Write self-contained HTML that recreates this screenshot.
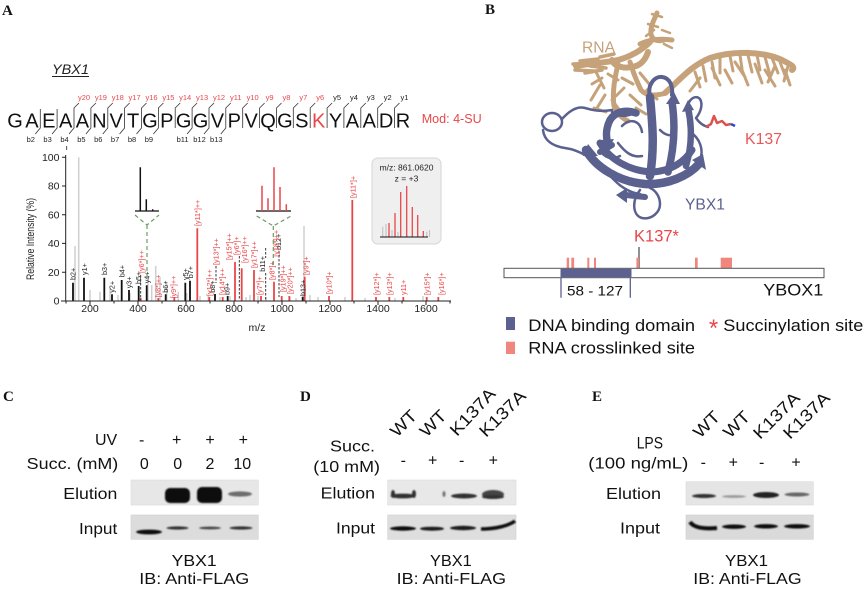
<!DOCTYPE html>
<html><head><meta charset="utf-8">
<style>
html,body{margin:0;padding:0;background:#fff;}
svg{display:block;}
text{font-family:"Liberation Sans",Arial,sans-serif;}
.L{font-family:"Liberation Serif",serif;font-weight:bold;font-size:15px;fill:#111;}
</style></head><body>
<svg width="865" height="595" viewBox="0 0 865 595" xmlns="http://www.w3.org/2000/svg">
<defs>
<filter id="bl" x="-30%" y="-200%" width="160%" height="500%"><feGaussianBlur stdDeviation="0.9"/></filter>
</defs>
<rect width="865" height="595" fill="#fff"/>

<!-- ================= PANEL A ================= -->
<text class="L" x="2" y="15">A</text>
<text x="52" y="74" font-size="13.5" font-style="italic" fill="#222" textLength="37" lengthAdjust="spacingAndGlyphs">YBX1</text>
<line x1="52" y1="76.5" x2="89" y2="76.5" stroke="#222" stroke-width="0.9"/>

<g font-size="7.5" text-anchor="middle" fill="#e8474a">
<text x="84" y="100">y20</text><text x="100.9" y="100">y19</text><text x="117.8" y="100">y18</text>
<text x="134.6" y="100">y17</text><text x="151.5" y="100">y16</text><text x="168.4" y="100">y15</text>
<text x="185.2" y="100">y14</text><text x="202.1" y="100">y13</text><text x="219" y="100">y12</text>
<text x="235.8" y="100">y11</text><text x="252.7" y="100">y10</text><text x="269.6" y="100">y9</text>
<text x="286.5" y="100">y8</text><text x="303.3" y="100">y7</text><text x="320.2" y="100">y6</text>
</g>
<g font-size="7.5" text-anchor="middle" fill="#222">
<text x="337.1" y="100">y5</text><text x="353.9" y="100">y4</text><text x="370.8" y="100">y3</text>
<text x="387.7" y="100">y2</text><text x="404.5" y="100">y1</text>
<text x="30.8" y="142">b2</text><text x="47.6" y="142">b3</text><text x="64.5" y="142">b4</text>
<text x="81.4" y="142">b5</text><text x="98.3" y="142">b6</text><text x="115.1" y="142">b7</text>
<text x="132" y="142">b8</text><text x="148.9" y="142">b9</text>
<text x="182.6" y="142">b11</text><text x="199.5" y="142">b12</text><text x="216.3" y="142">b13</text>
</g>
<line x1="66.7" y1="146" x2="66.7" y2="150" stroke="#222" stroke-width="0.8"/>
<path d="M40.3,109V128L35.3,134 M57.1,109V128L52.1,134 M79,103L74,108V128L69,134 M95.9,103L90.9,108V128L85.9,134 M112.8,103L107.8,108V128L102.8,134 M129.6,103L124.6,108V128L119.6,134 M146.5,103L141.5,108V128L136.5,134 M163.4,103L158.4,108V128L153.4,134 M180.2,103L175.2,108V128 M197.1,103L192.1,108V128L187.1,134 M214,103L209,108V128L204,134 M230.8,103L225.8,108V128L220.8,134 M247.7,103L242.7,108V128 M264.6,103L259.6,108V128 M281.5,103L276.5,108V128 M298.3,103L293.3,108V128 M315.2,103L310.2,108V128 M332.1,103L327.1,108V128 M348.9,103L343.9,108V128 M365.8,103L360.8,108V128 M382.7,103L377.7,108V128 M399.5,103L394.5,108V128" stroke="#333" stroke-width="0.8" fill="none"/>

<g font-size="20" text-anchor="middle" fill="#111">
<text x="15" y="127.5">G</text><text x="31.87" y="127.5">A</text><text x="48.74" y="127.5">E</text>
<text x="65.61" y="127.5">A</text><text x="82.48" y="127.5">A</text><text x="99.35" y="127.5">N</text>
<text x="116.22" y="127.5">V</text><text x="133.09" y="127.5">T</text><text x="149.96" y="127.5">G</text>
<text x="166.83" y="127.5">P</text><text x="183.7" y="127.5">G</text><text x="200.57" y="127.5">G</text>
<text x="217.44" y="127.5">V</text><text x="234.31" y="127.5">P</text><text x="251.18" y="127.5">V</text>
<text x="268.05" y="127.5">Q</text><text x="284.92" y="127.5">G</text><text x="301.79" y="127.5">S</text>
<text x="318.66" y="127.5" fill="#e8474a">K</text><text x="335.53" y="127.5">Y</text><text x="352.4" y="127.5">A</text>
<text x="369.27" y="127.5">A</text><text x="386.14" y="127.5">D</text><text x="403.01" y="127.5">R</text>
</g>
<text x="421.7" y="123" font-size="13" fill="#e8474a" textLength="60" lengthAdjust="spacingAndGlyphs">Mod: 4-SU</text>

<!-- spectrum axes labels -->
<text transform="translate(34,280) rotate(-90)" font-size="11" fill="#222" textLength="82" lengthAdjust="spacingAndGlyphs">Relative Intensity (%)</text>
<g font-size="10.5" text-anchor="end" fill="#222">
<text x="59.5" y="161">100</text><text x="59.5" y="189.7">80</text><text x="59.5" y="218.4">60</text>
<text x="59.5" y="247.1">40</text><text x="59.5" y="275.9">20</text><text x="59.5" y="304.7">0</text>
</g>
<g font-size="10.5" text-anchor="middle" fill="#222">
<text x="90" y="312">200</text><text x="138" y="312">400</text><text x="186" y="312">600</text>
<text x="234" y="312">800</text><text x="282" y="312">1000</text><text x="330" y="312">1200</text>
<text x="378" y="312">1400</text><text x="426" y="312">1600</text>
<text x="257" y="331">m/z</text>
</g>

<!-- gray noise peaks -->
<path d="M75,301V246 M78.7,301V157.3 M304,301V226 M155.7,301V266 M90,301V290 M100,301V291.7 M110,301V288 M118,301V295 M130,301V293 M148,301V280 M151.7,301V285 M160,301V276.7 M166.7,301V283 M178.3,301V291.7 M186.7,301V293 M200,301V296 M208.3,301V295 M220,301V297 M230,301V296 M246,301V297 M250,301V295 M258,301V296 M266,301V297 M290,301V297 M296,301V298 M310,301V295 M318,301V297 M345,301V297 M365,301V298 M395,301V298 M423,301V296" stroke="#cfcfcf" stroke-width="1.5" fill="none"/>

<path d="M73,301V282.7 M84,301V277.7 M104.3,301V277.7 M112,301V294.3 M121.7,301V280 M129,301V290 M138.7,301V286 M146.7,301V285.3 M165.7,301V294.3 M185.3,301V282.7 M190,301V280.7 M215,301V294 M227.7,301V296 M302.7,301V296.7" stroke="#111" stroke-width="1.8" fill="none"/>
<path d="M140.7,301V298 M158.3,301V298 M174.3,301V297 M197.3,301V228.3 M209.3,301V297 M222.7,301V297 M235,301V262 M241.7,301V268.3 M254,301V270 M261,301V296 M274,301V281.7 M281.7,301V296 M289.3,301V296 M304.7,301V276.7 M329,301V296 M352.3,301V200 M376,301V297 M389.3,301V297 M403.3,301V297 M426.7,301V297 M438.3,301V297" stroke="#e8474a" stroke-width="1.8" fill="none"/>
<path d="M140.7,275V300 M216,266V283 M239.3,256V300 M265.7,248V258 M265.7,273V300 M279,251V297" stroke="#222" stroke-width="0.9" stroke-dasharray="2.5,1.5" fill="none"/>

<path d="M65.7,155V301 M61,301H451 M62,157.3H65.7 M62,186H65.7 M62,214.7H65.7 M62,243.4H65.7 M62,272.2H65.7 M62,301H65.7 M66,301v2.5 M90,301v4 M114,301v2.5 M138,301v4 M162,301v2.5 M186,301v4 M210,301v2.5 M234,301v4 M258,301v2.5 M282,301v4 M306,301v2.5 M330,301v4 M354,301v2.5 M378,301v4 M402,301v2.5 M426,301v4 M450,301v2.5" stroke="#222" stroke-width="1" fill="none"/>

<g font-size="7.2" fill="#222">
<text transform="translate(75.7,280) rotate(-90)">b2+</text>
<text transform="translate(87,275) rotate(-90)">y1+</text>
<text transform="translate(106.8,275) rotate(-90)">b3+</text>
<text transform="translate(114.6,292.7) rotate(-90)">y2+</text>
<text transform="translate(124.3,277.3) rotate(-90)">b4+</text>
<text transform="translate(131.4,288.3) rotate(-90)">y3+</text>
<text transform="translate(141.2,284) rotate(-90)">b5+</text>
<text transform="translate(149.3,283.3) rotate(-90)">y4+</text>
<text transform="translate(168.2,292.7) rotate(-90)">b6+</text>
<text transform="translate(188.1,280) rotate(-90)">y5+</text>
<text transform="translate(192.9,278.3) rotate(-90)">b7+</text>
<text transform="translate(215.2,292.7) rotate(-90)">b8+</text>
<text transform="translate(229.5,295) rotate(-90)">b9+</text>
<text transform="translate(265.2,271.7) rotate(-90)">b11+</text>
<text transform="translate(281,250) rotate(-90)">b12+</text>
<text transform="translate(305.4,296) rotate(-90)">b13+</text>
</g>
<g font-size="7.2" fill="#e8474a">
<text transform="translate(144,273) rotate(-90)">[y6*]++</text>
<text transform="translate(160.7,297.5) rotate(-90)">[y8*]++</text>
<text transform="translate(176,298.5) rotate(-90)">[y9*]++</text>
<text transform="translate(199.8,226) rotate(-90)">[y11*]++</text>
<text transform="translate(211.8,296) rotate(-90)">[y12*]++</text>
<text transform="translate(218.3,265) rotate(-90)">[y13*]++</text>
<text transform="translate(224.7,295) rotate(-90)">[y14*]++</text>
<text transform="translate(231.3,260) rotate(-90)">[y15*]++</text>
<text transform="translate(238.9,255) rotate(-90)">[y6*]+</text>
<text transform="translate(247,263) rotate(-90)">[y16*]++</text>
<text transform="translate(256.6,268) rotate(-90)">[y17*]++</text>
<text transform="translate(262.2,295) rotate(-90)">[y7*]+</text>
<text transform="translate(274.7,280) rotate(-90)">[y8*]+</text>
<text transform="translate(278.6,256.7) rotate(-90)">[y18*]++</text>
<text transform="translate(285.7,292) rotate(-90)">[y19*]++</text>
<text transform="translate(292.4,294) rotate(-90)">[y20*]++</text>
<text transform="translate(308.6,275) rotate(-90)">[y9*]+</text>
<text transform="translate(331.5,294) rotate(-90)">[y10*]+</text>
<text transform="translate(355.3,198) rotate(-90)">[y11*]+</text>
<text transform="translate(378.8,295) rotate(-90)">[y12*]+</text>
<text transform="translate(392.1,295) rotate(-90)">[y13*]+</text>
<text transform="translate(406,295) rotate(-90)">y11+</text>
<text transform="translate(429.4,295) rotate(-90)">[y15*]+</text>
<text transform="translate(443.8,295) rotate(-90)">[y16*]+</text>
</g>

<path d="M135,211H159 M256,211H291" stroke="#111" stroke-width="1.2"/>
<path d="M140.3,211V167.3 M146.3,211V199.3 M152.7,211V209.3" stroke="#111" stroke-width="1.5"/>
<path d="M262,211V185.7 M268,211V198.3 M274,211V167.3 M280,211V187 M286.3,211V204.3" stroke="#e8474a" stroke-width="1.5"/>
<path d="M135,215L147,225L159,215 M147,225V278 M256.7,216L273.3,226L291,216 M273.3,226V266" stroke="#6a9f62" stroke-width="1.2" stroke-dasharray="4,3" fill="none"/>

<rect x="372" y="158" width="69" height="86" rx="6" fill="#efefef" stroke="#d6d6d6" stroke-width="1"/>
<text x="406.5" y="170.5" font-size="8.5" text-anchor="middle" fill="#222">m/z: 861.0620</text>
<text x="406.5" y="181.5" font-size="8.5" text-anchor="middle" fill="#222">z = +3</text>
<path d="M382.7,237V226.7 M386,237V224 M392,237V230 M398,237V232 M426.7,237V231.7 M429.5,237V230" stroke="#c4c4c4" stroke-width="1.2"/>
<path d="M389,237V223 M395,237V213 M400.7,237V192 M406.7,237V186 M412.3,237V207 M417.7,237V215 M423.3,237V231" stroke="#e8474a" stroke-width="1.3"/>
<path d="M380,237H428" stroke="#111" stroke-width="1"/>

<!-- ================= PANEL B ================= -->
<text class="L" x="485" y="14">B</text>

<!-- RNA (behind protein) -->
<g stroke="#c6a27a" fill="none" stroke-linecap="round" stroke-linejoin="round">
 <path d="M657,13 C654,20 650,27 651,34 C652,40 658,42 664,40" stroke-width="5"/>
 <path d="M640,44 C648,40 660,38 672,40" stroke-width="5"/>
 <path d="M652,14 L662,17 M648,24 L658,27 M662,30 L670,33 M646,36 L654,30 M664,44 L672,48" stroke-width="2.5"/>
 <path d="M576,66 C592,63 605,63 618,60 C630,57 642,50 650,42" stroke-width="6"/>
 <path d="M573,64 L592,63 M575,70 L594,71 M580,61 L598,59 M585,73 L602,70 M600,57 L614,54 M590,66 L606,68" stroke-width="3.5"/>
 <path d="M612,60 C614,66 624,70 636,66 C642,64 646,58 648,52" stroke-width="6"/>
 <path d="M618,64 C615,77 612,92 614,106 C616,113 622,118 628,121" stroke-width="5"/>
 <path d="M630,62 C633,72 637,82 641,90 C646,96 656,96 666,93" stroke-width="5"/>
 <path d="M596,72 L604,88 M600,85 L591,100 M605,95 L597,108 M612,100 L621,112 M622,78 L633,84 M630,95 L641,105 M640,73 L650,85 M647,90 L657,99 M608,74 L618,80 M594,108 L606,112 M636,108 L646,114 M624,88 L616,96 M602,78 L592,84" stroke-width="3"/>
 <path d="M665,93 C678,82 690,66 710,58 C735,50 765,52 782,60 C790,64 796,67 792,70" stroke-width="6"/>
 <path d="M695,72 L700,87 M703,66 L706,81 M712,62 L715,78 M720,58 L720,73 M730,56 L733,71 M740,55 L742,69 M748,55 L752,72 M757,55 L760,70 M765,57 L770,75 M772,58 L778,73 M780,62 L786,78 M788,66 L784,81 M735,62 L745,77 M755,64 L762,83 M725,70 L732,83 M765,70 L775,86 M700,78 L690,91 M742,70 L748,85 M712,68 L720,85 M775,66 L768,82 M785,70 L790,85" stroke-width="3"/>
</g>

<!-- protein -->
<g stroke="#5b618f" fill="none" stroke-linecap="round" stroke-linejoin="round">
 <ellipse cx="552" cy="122" rx="10" ry="9" stroke-width="2.5"/>
 <path d="M562,119 C570,110 578,106 585,108 C592,110 600,112 612,110" stroke-width="2.5"/>
 <path d="M543,130 C544,140 552,146 565,148 C580,150 595,160 605,170 C615,182 625,192 640,194" stroke-width="2.5"/>
 <path d="M640,190 C632,200 632,215 642,218 C652,220 660,212 660,204 C660,196 655,190 650,188" stroke-width="2.5"/>
 <path d="M650,96 C647,86 654,76 662,77 C670,78 673,86 672,95" stroke-width="4"/>
 <path d="M688,105 C690,98 696,95 700,99 C703,104 701,112 696,118 C700,124 704,126 708,127" stroke-width="2.5"/>
 <path d="M690,132 C700,138 704,150 700,160" stroke-width="2.5"/>
 <path d="M618,143 C625,152 632,158 642,156 M660,130 C665,135 670,137 676,134 M622,126 C630,118 640,120 642,132 M612,112 C620,118 628,116 635,113 M600,150 C604,158 612,160 620,156" stroke-width="2.5"/>
 <path d="M586,150 C596,168 620,182 645,184 C668,185 688,176 699,164" stroke-width="8.5"/>
 <path d="M600,143 C610,160 630,171 652,172 C672,171 685,161 692,150" stroke-width="7"/>
 <path d="M650,97 C652,120 655,145 650,176" stroke-width="8.5"/>
 <path d="M672,102 C675,122 675,146 668,172" stroke-width="7.5"/>
 <path d="M688,108 C692,126 692,146 686,166" stroke-width="6.5"/>
 <path d="M636,113 C625,109 615,112 610,120 C606,128 606,134 607,140" stroke-width="7.5"/>
 <path d="M626,195 L645,197" stroke-width="6"/>
 <path d="M612,145 L600,152" stroke-width="6"/>
</g>
<g fill="#5b618f">
 <polygon points="666,104 680,104 674,92"/>
 <polygon points="692,160 706,170 703,154"/>
 <polygon points="601,140 614,139 608,150"/>
 <polygon points="627,188 627,203 616,195"/>
 <polygon points="588,144 598,156 583,156"/>
 <polygon points="682,112 694,110 688,100"/>
</g>

<!-- K137 side chain -->
<path d="M706,127 L711,124 L714,116 L717,123 L722,121 L726,125 L731,124" stroke="#d9534f" stroke-width="2.5" fill="none" stroke-linejoin="round"/>
<path d="M731,124 L735,126" stroke="#2a4bd0" stroke-width="2.5"/>

<text x="582" y="52.7" font-size="16" fill="#c6a27a" textLength="33" lengthAdjust="spacingAndGlyphs">RNA</text>
<text x="745" y="144" font-size="16" fill="#e8585a" textLength="37" lengthAdjust="spacingAndGlyphs">K137</text>
<text x="685" y="209.3" font-size="16" fill="#5b618f" textLength="40" lengthAdjust="spacingAndGlyphs">YBX1</text>
<text x="634" y="241.5" font-size="16.5" fill="#e8474a" textLength="45" lengthAdjust="spacingAndGlyphs">K137*</text>

<line x1="639" y1="247" x2="639" y2="277" stroke="#222" stroke-width="1"/>
<g fill="#f0877f">
 <rect x="566.7" y="257.7" width="2.4" height="10.6"/><rect x="571.3" y="257.7" width="2.8" height="10.6"/>
 <rect x="587.3" y="257.7" width="2" height="10.6"/><rect x="594" y="257.7" width="2" height="10.6"/>
 <rect x="636.4" y="257.7" width="2.6" height="10.6"/><rect x="695" y="257.7" width="2.7" height="10.6"/>
 <rect x="720.7" y="257.7" width="11.3" height="10.6"/>
</g>
<rect x="504" y="268.3" width="320" height="9.4" fill="#fff" stroke="#555" stroke-width="1"/>
<rect x="560.5" y="268.8" width="71" height="8.4" fill="#5c6191"/>
<path d="M561,277.7V297.7 M630.3,277.7V297.7" stroke="#5c6191" stroke-width="1.3"/>
<text x="567" y="295.5" font-size="14" fill="#111" textLength="56" lengthAdjust="spacingAndGlyphs">58 - 127</text>
<text x="763.3" y="295.7" font-size="16.5" fill="#111" textLength="60" lengthAdjust="spacingAndGlyphs">YBOX1</text>

<rect x="506" y="317" width="9" height="13" fill="#5c6191"/>
<rect x="506" y="341.7" width="9" height="12.3" fill="#f0877f"/>
<text x="528.3" y="331.2" font-size="16.5" fill="#111" textLength="166.7" lengthAdjust="spacingAndGlyphs">DNA binding domain</text>
<text x="528.3" y="353.5" font-size="16.5" fill="#111" textLength="166.7" lengthAdjust="spacingAndGlyphs">RNA crosslinked site</text>
<text x="713.5" y="336" font-size="24" text-anchor="middle" fill="#e8474a">*</text>
<text x="723.3" y="331.2" font-size="16.5" fill="#111" textLength="140" lengthAdjust="spacingAndGlyphs">Succinylation site</text>

<!-- ================= PANEL C ================= -->
<text class="L" x="3" y="401">C</text>
<g font-size="16" fill="#111">
<text x="95" y="445">UV</text>
<text x="26.7" y="469" textLength="91.6" lengthAdjust="spacingAndGlyphs">Succ. (mM)</text>
<text x="63.3" y="499" textLength="54" lengthAdjust="spacingAndGlyphs">Elution</text>
<text x="79" y="534" textLength="38.3" lengthAdjust="spacingAndGlyphs">Input</text>
<text x="171.7" y="566" textLength="45" lengthAdjust="spacingAndGlyphs">YBX1</text>
<text x="139.3" y="584" textLength="110" lengthAdjust="spacingAndGlyphs">IB: Anti-FLAG</text>
</g>
<g font-size="16" fill="#111" text-anchor="middle">
<text x="141.7" y="445">-</text><text x="176.7" y="445">+</text><text x="210" y="445">+</text><text x="243.3" y="445">+</text>
<text x="144.3" y="469">0</text><text x="177.7" y="469">0</text><text x="210" y="469">2</text><text x="242.3" y="469">10</text>
</g>
<rect x="131" y="480" width="127.3" height="25" fill="#e7e7e7" stroke="#dadada" stroke-width="0.6"/>
<rect x="131" y="515" width="127.3" height="24.3" fill="#dcdcdc" stroke="#d0d0d0" stroke-width="0.6"/>
<g filter="url(#bl)">
<rect x="165" y="488" width="25" height="15" rx="5" fill="#111"/>
<rect x="197" y="487" width="25" height="16" rx="5" fill="#111"/>
<ellipse cx="240" cy="494" rx="12" ry="2.6" fill="#444" opacity="0.75"/>
<ellipse cx="149" cy="532" rx="13" ry="2.4" fill="#111"/>
<ellipse cx="177.5" cy="528" rx="11" ry="1.6" fill="#333"/>
<ellipse cx="210" cy="528" rx="11" ry="1.4" fill="#444"/>
<ellipse cx="241" cy="528" rx="11.5" ry="1.6" fill="#333"/>
</g>

<!-- ================= PANEL D ================= -->
<text class="L" x="300" y="401">D</text>
<g font-size="17" fill="#111">
<text transform="translate(397,438) rotate(-45)" textLength="30" lengthAdjust="spacingAndGlyphs">WT</text>
<text transform="translate(426.5,438) rotate(-45)" textLength="30" lengthAdjust="spacingAndGlyphs">WT</text>
<text transform="translate(457,437) rotate(-47)" textLength="58" lengthAdjust="spacingAndGlyphs">K137A</text>
<text transform="translate(486,438) rotate(-45)" textLength="58" lengthAdjust="spacingAndGlyphs">K137A</text>
</g>
<g font-size="16" fill="#111">
<text x="330" y="451.7" textLength="45" lengthAdjust="spacingAndGlyphs">Succ.</text>
<text x="313.3" y="472" textLength="66.7" lengthAdjust="spacingAndGlyphs">(10 mM)</text>
<text x="320.7" y="498.7" textLength="54.3" lengthAdjust="spacingAndGlyphs">Elution</text>
<text x="336" y="533.7" textLength="39" lengthAdjust="spacingAndGlyphs">Input</text>
<text x="430" y="566" textLength="41.7" lengthAdjust="spacingAndGlyphs">YBX1</text>
<text x="396.7" y="584" textLength="109.3" lengthAdjust="spacingAndGlyphs">IB: Anti-FLAG</text>
</g>
<g font-size="16" fill="#111" text-anchor="middle">
<text x="403.3" y="465.7">-</text><text x="432.7" y="465.7">+</text><text x="461.7" y="465.7">-</text><text x="493.3" y="465.7">+</text>
</g>
<rect x="387.7" y="480" width="128.3" height="25" fill="#e8e8e8" stroke="#dadada" stroke-width="0.6"/>
<rect x="387.7" y="515" width="128.3" height="24.3" fill="#dedede" stroke="#d0d0d0" stroke-width="0.6"/>
<g filter="url(#bl)">
<ellipse cx="403" cy="496" rx="12.5" ry="2.4" fill="#333"/>
<ellipse cx="393" cy="494" rx="2" ry="4" fill="#333"/>
<ellipse cx="414" cy="494" rx="2" ry="4" fill="#333"/>
<ellipse cx="444" cy="494" rx="1.6" ry="3" fill="#777"/>
<ellipse cx="464" cy="496" rx="13" ry="2.5" fill="#333"/>
<ellipse cx="493" cy="494.5" rx="11" ry="4.5" fill="#444"/>
<ellipse cx="493" cy="497" rx="11" ry="2" fill="#333"/>
<ellipse cx="403" cy="528.5" rx="13" ry="2.2" fill="#111"/>
<ellipse cx="432" cy="528.7" rx="12" ry="2" fill="#1a1a1a"/>
<ellipse cx="463" cy="528" rx="13" ry="2.2" fill="#1a1a1a"/>
<path d="M481,529 C495,529 508,526 515,521" stroke="#111" stroke-width="3.5" fill="none"/>
</g>

<!-- ================= PANEL E ================= -->
<text class="L" x="592" y="401">E</text>
<g font-size="17" fill="#111">
<text transform="translate(700,439) rotate(-45)" textLength="30" lengthAdjust="spacingAndGlyphs">WT</text>
<text transform="translate(730,439) rotate(-45)" textLength="30" lengthAdjust="spacingAndGlyphs">WT</text>
<text transform="translate(760,440) rotate(-45)" textLength="58" lengthAdjust="spacingAndGlyphs">K137A</text>
<text transform="translate(790,440) rotate(-45)" textLength="58" lengthAdjust="spacingAndGlyphs">K137A</text>
</g>
<g font-size="16" fill="#111">
<text x="636.7" y="448.3" font-size="17" textLength="26.3" lengthAdjust="spacingAndGlyphs">LPS</text>
<text x="588.3" y="468.3" textLength="100" lengthAdjust="spacingAndGlyphs">(100 ng/mL)</text>
<text x="606" y="499" textLength="55" lengthAdjust="spacingAndGlyphs">Elution</text>
<text x="620" y="533.7" textLength="40" lengthAdjust="spacingAndGlyphs">Input</text>
<text x="725" y="566" textLength="43" lengthAdjust="spacingAndGlyphs">YBX1</text>
<text x="693.3" y="584" textLength="108.3" lengthAdjust="spacingAndGlyphs">IB: Anti-FLAG</text>
</g>
<g font-size="16" fill="#111" text-anchor="middle">
<text x="703.3" y="467.3">-</text><text x="733.3" y="467.3">+</text><text x="761.7" y="467.3">-</text><text x="796" y="467.3">+</text>
</g>
<rect x="686" y="481.7" width="127.3" height="23.3" fill="#e5e5e5" stroke="#d8d8d8" stroke-width="0.6"/>
<rect x="686" y="515" width="127.3" height="24.3" fill="#dadada" stroke="#cecece" stroke-width="0.6"/>
<g filter="url(#bl)">
<ellipse cx="704" cy="496" rx="12" ry="2" fill="#333"/>
<ellipse cx="734" cy="496.5" rx="12" ry="1.4" fill="#999"/>
<ellipse cx="766" cy="495" rx="13" ry="3" fill="#222"/>
<ellipse cx="797" cy="494.5" rx="12.5" ry="2" fill="#666"/>
<path d="M690,522 C694,528 705,529 717,528" stroke="#111" stroke-width="4" fill="none"/>
<ellipse cx="734" cy="526.7" rx="12" ry="2.2" fill="#111"/>
<ellipse cx="766" cy="526.3" rx="12" ry="2.2" fill="#111"/>
<ellipse cx="797" cy="526.3" rx="13" ry="2.2" fill="#111"/>
</g>
</svg>
</body></html>
